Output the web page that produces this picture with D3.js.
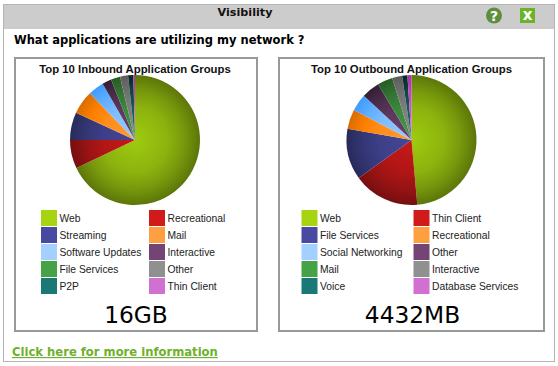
<!DOCTYPE html>
<html>
<head>
<meta charset="utf-8">
<title>Visibility</title>
<script src="https://cdn.jsdelivr.net/npm/d3@7"></script>
<style>
  html, body { margin: 0; padding: 0; background: #fff; overflow: hidden; }
  svg { display: block; }
  .verdana { font-family: "DejaVu Sans", Verdana, sans-serif; }
  .arial { font-family: "Liberation Sans", Arial, sans-serif; }
</style>
</head>
<body>
<svg id="chart" width="558" height="366"></svg>
<script>
// slice colours, same order for both pies
const sliceColors = ['#a6d411', '#d11a1a', '#484aa1', '#ffa040', '#a4d0ff',
                     '#744574', '#46a246', '#909090', '#1a7876', '#d070d0'];

const inboundLabels = ['Web', 'Recreational', 'Streaming', 'Mail', 'Software Updates',
                       'Interactive', 'File Services', 'Other', 'P2P', 'Thin Client'];
const inboundValues = [67.9, 7.1, 6.9, 5.9, 3.9, 2.3, 2.3, 2.0, 1.3, 0.4];

const outboundLabels = ['Web', 'Thin Client', 'File Services', 'Recreational', 'Social Networking',
                        'Other', 'Mail', 'Interactive', 'Voice', 'Database Services'];
const outboundValues = [48.6, 16.5, 12.7, 4.9, 4.25, 4.5, 3.8, 2.5, 1.3, 1.0];

// drop the lightness, keeps the hue and saturation of the slice
function shade(color, amount) {
  let c = d3.hsl(color);
  c.l = Math.max(0, c.l - amount);
  return c.formatHex();
}

class Pie {

  constructor(_config, _labels, _values) {
    this.config = _config;
    this.labels = _labels;
    this.values = _values;
    this.initVis();
  }

  initVis() {
    let vis = this;
    let c = vis.config;

    vis.color = d3.scaleOrdinal().domain(d3.range(sliceColors.length)).range(sliceColors);
    vis.svg = d3.select(c.parentElement).append('g');

    // box
    vis.svg.append('rect')
      .attr('x', c.box.x).attr('y', c.box.y)
      .attr('width', c.box.w).attr('height', c.box.h)
      .attr('fill', '#fff').attr('stroke', '#999').attr('stroke-width', 2);

    vis.svg.append('text')
      .attr('class', 'arial')
      .attr('x', c.cx).attr('y', 73)
      .attr('text-anchor', 'middle')
      .attr('font-size', 11.35).attr('font-weight', 'bold').attr('fill', '#111')
      .text(c.title);

    // one radial gradient per slice, bright at the centre and dark on the rim
    // (user space of the paths is the translated group, so the centre is 0,0)
    let defs = vis.svg.append('defs');
    let grads = defs.selectAll('radialGradient').data(sliceColors).enter()
      .append('radialGradient')
      .attr('id', (d, i) => c.id + '-g' + i)
      .attr('gradientUnits', 'userSpaceOnUse')
      .attr('cx', 0).attr('cy', 0).attr('r', c.radius);
    grads.append('stop').attr('offset', '0%').attr('stop-color', d => shade(d, 0.02));
    grads.append('stop').attr('offset', '50%').attr('stop-color', d => shade(d, 0.07));
    grads.append('stop').attr('offset', '75%').attr('stop-color', d => shade(d, 0.125));
    grads.append('stop').attr('offset', '100%').attr('stop-color', d => shade(d, 0.20));

    let pieData = d3.pie().sort(null)(vis.values);
    let arc = d3.arc().outerRadius(c.radius).innerRadius(0);

    vis.svg.append('g')
      .attr('transform', `translate(${c.cx}, ${c.cy})`)
      .selectAll('path').data(pieData).enter()
      .append('path')
      .attr('d', arc)
      .attr('fill', (d, i) => `url(#${c.id}-g${i})`);

    // legend, two columns filled left to right
    let legendG = vis.svg.selectAll('.legend').data(vis.labels).enter()
      .append('g')
      .attr('class', 'legend')
      .attr('transform', (d, i) => `translate(${c.legendX[i % 2]}, ${210 + 17 * Math.floor(i / 2)})`);

    legendG.append('rect')
      .attr('width', 16).attr('height', 16)
      .attr('fill', (d, i) => vis.color(i));

    legendG.append('text')
      .attr('class', 'arial')
      .attr('x', 18.5).attr('y', 12)
      .attr('font-size', 10.3).attr('fill', '#222')
      .text(d => d);

    vis.svg.append('text')
      .attr('class', 'verdana')
      .attr('x', c.cx + 1).attr('y', 323)
      .attr('text-anchor', 'middle')
      .attr('font-size', 23.3).attr('fill', '#000')
      .text(c.total);
  }
}

const root = d3.select('#chart');

// outer panel and header strip
root.append('rect').attr('x', 3.5).attr('y', 4.5).attr('width', 551).attr('height', 357)
  .attr('fill', '#fff').attr('stroke', '#b4b4b4');
root.append('rect').attr('x', 4).attr('y', 5).attr('width', 550).attr('height', 24).attr('fill', '#ccc');

root.append('text').attr('class', 'verdana')
  .attr('x', 245).attr('y', 16).attr('text-anchor', 'middle')
  .attr('font-size', 11.2).attr('font-weight', 'bold').attr('fill', '#111')
  .text('Visibility');

root.append('text').attr('class', 'verdana')
  .attr('x', 14).attr('y', 44)
  .attr('font-size', 11.5).attr('font-weight', 'bold').attr('fill', '#000')
  .text('What applications are utilizing my network ?');

// help and close buttons
root.append('circle').attr('cx', 494).attr('cy', 15.5).attr('r', 8).attr('fill', '#5d8f3e');
root.append('text').attr('class', 'verdana')
  .attr('x', 494).attr('y', 20.5).attr('text-anchor', 'middle')
  .attr('font-size', 14).attr('font-weight', 'bold').attr('fill', '#fff').text('?');
root.append('rect').attr('x', 520).attr('y', 8).attr('width', 15).attr('height', 15).attr('fill', '#6cb32a');
root.append('text').attr('class', 'verdana')
  .attr('x', 527.5).attr('y', 20).attr('text-anchor', 'middle')
  .attr('font-size', 15).attr('font-weight', 'bold').attr('fill', '#fff').text('x');

new Pie({
  parentElement: '#chart', id: 'in', title: 'Top 10 Inbound Application Groups', total: '16GB',
  box: { x: 15, y: 58, w: 242, h: 273 }, cx: 135, cy: 140, radius: 65, legendX: [41, 149]
}, inboundLabels, inboundValues);

new Pie({
  parentElement: '#chart', id: 'out', title: 'Top 10 Outbound Application Groups', total: '4432MB',
  box: { x: 279, y: 58, w: 265, h: 273 }, cx: 411.5, cy: 140, radius: 65, legendX: [301.5, 413.5]
}, outboundLabels, outboundValues);

root.append('text').attr('class', 'verdana')
  .attr('x', 12).attr('y', 356)
  .attr('font-size', 11.6).attr('font-weight', 'bold').attr('fill', '#6fb02e')
  .attr('text-decoration', 'underline')
  .text('Click here for more information');
</script>
</body>
</html>
